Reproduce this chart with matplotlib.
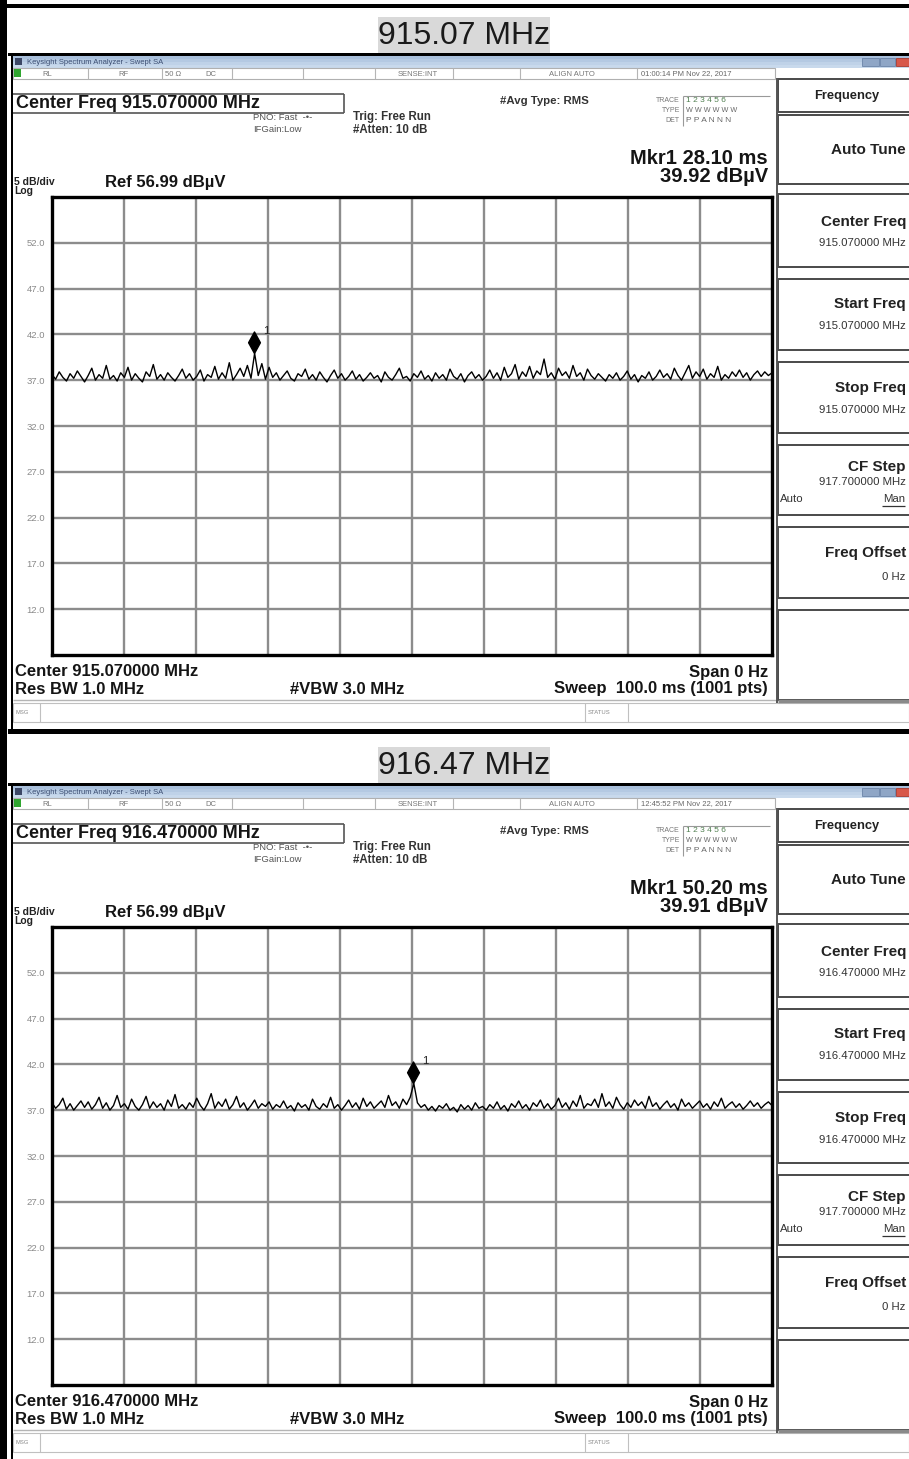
import numpy as np
import matplotlib
matplotlib.use("Agg")
import matplotlib.pyplot as plt
from matplotlib.patches import Rectangle
from matplotlib.path import Path

plt.rcParams['font.family'] = ['Liberation Sans', 'DejaVu Sans']

# ---------------- data ----------------
titles = ["915.07 MHz", "916.47 MHz"]
center_freqs = ["915.070000 MHz", "916.470000 MHz"]
timestamps = ["01:00:14 PM Nov 22, 2017", "12:45:52 PM Nov 22, 2017"]
marker_times = [28.10, 50.20]          # ms
marker_levels = [39.92, 39.91]         # dBuV
ref_level = 56.99
db_per_div = 5
sweep_ms = 100.0
y_tick_labels = ["52.0", "47.0", "42.0", "37.0", "32.0", "27.0", "22.0", "17.0", "12.0"]

trace_915 = [
    37.6, 37.1, 37.9, 37.3, 36.9, 37.7, 37.2, 38.0, 37.4, 36.8, 37.5, 38.3, 37.0, 37.6, 37.2, 38.6, 37.1, 37.5, 36.9, 37.8,
    37.3, 38.4, 37.0, 37.7, 37.2, 36.8, 37.9, 37.4, 38.7, 37.1, 37.6, 37.0, 37.8, 37.3, 36.9, 37.5, 38.2, 37.2, 37.7, 37.0,
    37.4, 38.1, 36.9, 37.6, 37.3, 38.5, 37.1, 37.8, 37.2, 38.9, 37.0, 37.6, 38.3, 37.4, 38.6, 37.2, 39.92, 37.5, 38.8, 37.1,
    38.4, 37.3, 37.8, 37.0, 37.5, 38.0, 37.2, 36.9, 37.7, 37.4, 38.2, 37.1, 37.6, 37.0, 37.9, 37.3, 36.8, 37.5, 38.1, 37.2,
    37.7, 37.0, 37.4, 38.0, 37.1, 37.6, 36.9, 37.3, 37.8, 37.2, 37.5, 36.8, 37.9, 37.3, 37.0, 37.6, 38.3, 37.2, 37.4, 36.9,
    37.7, 37.3, 38.0, 37.1, 37.5, 36.9, 37.8, 37.2, 37.6, 37.0, 38.2, 37.4, 37.1, 37.7, 36.8, 37.5, 37.9, 37.2, 37.6, 37.0,
    37.4, 38.1, 37.2, 37.8, 37.0, 38.4, 37.3, 37.7, 38.7, 37.1, 37.9, 37.4, 38.5, 37.2, 38.0, 37.6, 39.3, 37.3, 37.8, 37.1,
    38.3, 37.5, 37.9, 37.2, 38.6, 37.4, 37.8, 37.0, 38.2, 37.5, 37.1, 37.7, 37.3, 36.9, 37.6, 37.2, 37.8, 37.0, 37.4, 38.0,
    37.1, 37.6, 36.8, 37.5, 37.2, 37.9, 37.0, 37.4, 38.1, 37.3, 37.7, 37.1, 38.3, 37.5, 37.0, 37.8, 38.6, 37.2, 37.9, 37.4,
    38.2, 37.1, 37.7, 37.3, 38.5, 37.0, 37.6, 37.2, 37.9, 37.4, 38.1, 37.3, 37.8, 37.0, 37.6, 38.0, 37.4, 37.9, 37.5, 37.8,
]
trace_916 = [
    37.8, 37.2, 37.6, 38.3, 37.1, 37.7, 37.0, 37.5, 38.0, 37.3, 37.9, 37.1, 37.6, 38.4, 37.2, 37.8, 37.0, 37.5, 38.6, 37.3,
    37.7, 37.1, 38.2, 37.4, 37.0, 37.6, 38.5, 37.2, 37.9, 37.3, 37.7, 37.0, 38.1, 37.4, 38.7, 37.2, 37.6, 37.1, 37.8, 37.3,
    38.3, 37.5, 37.0, 37.7, 38.8, 37.2, 37.9, 37.4, 38.2, 37.1, 37.6, 38.5, 37.3, 37.8, 37.0, 37.5, 38.1, 37.2, 37.7, 37.4,
    37.9, 37.1, 37.6, 37.3, 38.0, 37.2, 37.5, 36.9, 37.8, 37.3, 37.6, 37.0, 38.2, 37.4, 37.1, 37.7, 37.3, 38.4, 37.2, 37.6,
    37.0, 37.5, 38.1, 37.3, 37.8, 37.1, 38.3, 37.4, 37.9, 37.2, 37.6, 38.0, 37.3, 38.6, 37.5, 37.9, 37.2, 38.2, 37.6, 38.4,
    39.91, 37.8, 37.3, 37.6, 37.0, 37.4, 36.9, 37.5, 37.2, 37.7, 37.0, 37.3, 36.8, 37.6, 37.1, 37.5, 37.0, 37.8, 37.2, 37.4,
    37.0, 37.6, 37.2, 37.9, 37.1, 37.5, 36.9, 37.7, 37.3, 38.0, 37.2, 37.6, 37.0, 37.8, 37.4, 38.1, 37.2, 37.7, 37.1, 37.5,
    38.3, 37.3, 37.8, 37.1, 38.0, 37.4, 38.6, 37.2, 37.7, 37.5, 38.2, 37.3, 38.8, 37.4, 37.9, 37.2, 38.4, 37.6, 37.1, 37.8,
    37.3, 38.1, 37.5, 37.9, 37.2, 38.5, 37.4, 37.8, 37.1, 37.6, 38.0, 37.3, 37.7, 37.0, 38.2, 37.4, 37.8, 37.2, 37.6, 38.0,
    37.3, 37.7, 37.1, 37.9, 37.4, 38.3, 37.2, 37.6, 37.9, 37.3, 37.7, 37.1, 37.5, 38.0, 37.4, 37.8, 37.2, 37.6, 37.9, 37.5,
]
traces = [trace_915, trace_916]

# ---------------- figure ----------------
W, H = 909, 1459
fig = plt.figure(figsize=(W / 100, H / 100), dpi=100)
bg = fig.add_axes([0, 0, 1, 1])
bg.set_xlim(0, W)
bg.set_ylim(H, 0)
bg.axis('off')


def T(x, y, s, size, bold=False, color='#111111', ha='left', va='center', **kw):
    return bg.text(x, y, s, fontsize=size, fontweight='bold' if bold else 'normal',
                   color=color, ha=ha, va=va, **kw)


def R(x0, y0, x1, y1, fc='none', ec='none', lw=1.0, z=1):
    bg.add_patch(Rectangle((x0, y0), x1 - x0, y1 - y0, facecolor=fc, edgecolor=ec,
                           lw=lw, zorder=z))


def L(x0, y0, x1, y1, color='#999999', lw=1.0, z=2):
    bg.plot([x0, x1], [y0, y1], color=color, lw=lw, solid_capstyle='butt', zorder=z)


# diamond marker with its lower tip at the data point
diamond = Path([(0, 0), (-0.55, 1.0), (0, 2.0), (0.55, 1.0), (0, 0)],
               [Path.MOVETO, Path.LINETO, Path.LINETO, Path.LINETO, Path.CLOSEPOLY])

# outer frame
R(0, 0, 7, H, fc='black', z=5)
R(0, 4, W, 8, fc='black', z=5)

for k in range(2):
    oy = 730 * k
    # title
    R(378, 17 + oy, 550, 53 + oy, fc='#d9d9d9')
    T(464, 36 + oy, titles[k], 23, color='#1a1a1a', ha='center')
    R(8, 53 + oy, W, 56 + oy, fc='black', z=4)
    if k == 0:
        R(8, 729, W, 734, fc='black', z=4)
    # screenshot left border
    R(11, 56 + oy, 13, min(729 + oy, H), fc='black', z=4)

    # window title bar
    for i, c in enumerate(['#a9c0dc', '#b4c9e2', '#bfd2e8', '#c8d9ec']):
        R(13, 56 + oy + i * 3, W, 59 + oy + i * 3, fc=c)
    R(15, 58 + oy, 22, 65 + oy, fc='#3c4766')
    T(27, 62 + oy, "Keysight Spectrum Analyzer - Swept SA", 5.5, color='#3d4f73')
    R(862, 58 + oy, 879, 66 + oy, fc='#8fa6c6', ec='#6b84a8', lw=0.6)
    R(880, 58 + oy, 895, 66 + oy, fc='#8fa6c6', ec='#6b84a8', lw=0.6)
    R(896, 58 + oy, W, 66 + oy, fc='#d8574a', ec='#a8392e', lw=0.6)

    # status row
    R(13, 68 + oy, 775, 79 + oy, fc='white', ec='#b0b0b0', lw=0.8)
    R(14, 69 + oy, 21, 77 + oy, fc='#2fa52f')
    for sx in [88, 162, 232, 303, 375, 453, 520, 637]:
        L(sx, 68 + oy, sx, 79 + oy, color='#b5b5b5', lw=0.8)
    T(42, 74 + oy, "RL", 5.5, color='#777777')
    T(118, 74 + oy, "RF", 5.5, color='#777777')
    T(165, 74 + oy, "50 Ω", 5.5, color='#777777')
    T(205, 74 + oy, "DC", 5.5, color='#777777')
    T(418, 74 + oy, "SENSE:INT", 5.5, color='#777777', ha='center')
    T(572, 74 + oy, "ALIGN AUTO", 5.5, color='#777777', ha='center')
    T(641, 74 + oy, timestamps[k], 5.5, color='#666666')

    # center freq box
    L(13, 94 + oy, 344, 94 + oy, color='#555555', lw=1.2)
    L(344, 94 + oy, 344, 113 + oy, color='#555555', lw=1.2)
    L(13, 113 + oy, 344, 113 + oy, color='#555555', lw=1.2)
    T(16, 104 + oy, "Center Freq " + center_freqs[k], 13, bold=True, color='#151515')

    T(253, 117 + oy, "PNO: Fast  -•-", 6.8, color='#555555')
    T(253, 129 + oy, "IFGain:Low", 6.8, color='#555555')
    T(353, 117 + oy, "Trig: Free Run", 8.3, bold=True, color='#333333')
    T(353, 130 + oy, "#Atten: 10 dB", 8.3, bold=True, color='#333333')
    T(500, 101 + oy, "#Avg Type: RMS", 8.2, bold=True, color='#333333')

    T(680, 101 + oy, "TRACE", 5, color='#777777', ha='right')
    T(680, 111 + oy, "TYPE", 5, color='#777777', ha='right')
    T(680, 121 + oy, "DET", 5, color='#777777', ha='right')
    L(683, 96 + oy, 683, 126 + oy, color='#999999', lw=0.8)
    L(683, 96 + oy, 770, 96 + oy, color='#999999', lw=0.8)
    T(686, 101 + oy, "1 2 3 4 5 6", 6, color='#4f7f4f')
    T(686, 111 + oy, "W W W W W W", 5.2, color='#666666')
    T(686, 121 + oy, "P P A N N N", 6, color='#666666')

    T(768, 158 + oy, "Mkr1 %.2f ms" % marker_times[k], 14.5, bold=True, color='#151515', ha='right')
    T(768, 177 + oy, "%.2f dBµV" % marker_levels[k], 14.5, bold=True, color='#151515', ha='right')

    T(14, 182 + oy, "5 dB/div", 7.5, bold=True, color='#222222')
    T(14, 191 + oy, "Log", 7.5, bold=True, color='#222222')
    T(105, 182 + oy, "Ref %.2f dBµV" % ref_level, 12, bold=True, color='#151515')

    # bottom info
    T(15, 672 + oy, "Center " + center_freqs[k], 12, bold=True, color='#151515')
    T(15, 689 + oy, "Res BW 1.0 MHz", 12, bold=True, color='#151515')
    T(290, 689 + oy, "#VBW 3.0 MHz", 12, bold=True, color='#151515')
    T(768, 672 + oy, "Span 0 Hz", 12, bold=True, color='#151515', ha='right')
    T(768, 689 + oy, "Sweep  100.0 ms (1001 pts)", 12, bold=True, color='#151515', ha='right')
    L(13, 700 + oy, 777, 700 + oy, color='#b5b5b5', lw=1.0)
    R(13, 703 + oy, W, 722 + oy, fc='white', ec='#c0c0c0', lw=0.8)
    for sx in [40, 585, 628]:
        L(sx, 703 + oy, sx, 722 + oy, color='#c0c0c0', lw=0.8)
    T(16, 713 + oy, "MSG", 4.2, color='#888888')
    T(588, 713 + oy, "STATUS", 4.2, color='#888888')

    # softkey panel
    L(777, 78 + oy, 777, 703 + oy, color='#555555', lw=1.4)
    boxes = [(79, 112), (115, 184), (194, 267), (279, 350), (362, 433), (445, 515), (527, 598), (610, 700)]
    for (b0, b1) in boxes:
        R(778, b0 + oy, 915, b1 + oy, fc='white', ec='#4a4a4a', lw=1.4)
    L(778, 701 + oy, W, 701 + oy, color='#8a8a8a', lw=2.5)
    T(847, 96 + oy, "Frequency", 9.3, bold=True, color='#222222', ha='center')
    T(906, 150 + oy, "Auto Tune", 11, bold=True, color='#222222', ha='right')
    T(906, 222 + oy, "Center Freq", 11, bold=True, color='#222222', ha='right')
    T(906, 243 + oy, center_freqs[k], 8.2, color='#333333', ha='right')
    T(906, 304 + oy, "Start Freq", 11, bold=True, color='#222222', ha='right')
    T(906, 326 + oy, center_freqs[k], 8.2, color='#333333', ha='right')
    T(906, 388 + oy, "Stop Freq", 11, bold=True, color='#222222', ha='right')
    T(906, 410 + oy, center_freqs[k], 8.2, color='#333333', ha='right')
    T(906, 467 + oy, "CF Step", 11, bold=True, color='#222222', ha='right')
    T(906, 482 + oy, "917.700000 MHz", 8.2, color='#333333', ha='right')
    T(780, 499 + oy, "Auto", 8.2, color='#333333')
    T(905, 499 + oy, "Man", 8.2, color='#333333', ha='right')
    L(882, 506 + oy, 905, 506 + oy, color='#333333', lw=0.9)
    T(906, 553 + oy, "Freq Offset", 11, bold=True, color='#222222', ha='right')
    T(905, 577 + oy, "0 Hz", 8.2, color='#333333', ha='right')

    # trace plot
    ax = fig.add_axes([52 / W, 1 - (655 + oy) / H, 720 / W, 458 / H])
    ax.set_zorder(6)
    ybot = ref_level - 10 * db_per_div
    ax.set_xlim(0, sweep_ms)
    ax.set_ylim(ybot, ref_level)
    ax.set_xticks(np.arange(1, 10) * sweep_ms / 10)
    ax.set_xticklabels([])
    yt = ref_level - db_per_div * np.arange(1, 10)
    ax.set_yticks(yt)
    ax.set_yticklabels(y_tick_labels, fontsize=6.8, color='#8a8a8a')
    ax.tick_params(length=0, pad=5)
    ax.grid(True, color='#8c8c8c', lw=1.7)
    ax.set_axisbelow(True)
    for sp in ax.spines.values():
        sp.set_color('black')
        sp.set_linewidth(2.4)
    tr = traces[k]
    t = np.linspace(0, sweep_ms, len(tr))
    ax.plot(t, tr, color='black', lw=1.0, zorder=3)
    ax.plot([marker_times[k]], [marker_levels[k]], marker=diamond, ms=31,
            color='black', mec='black', ls='none', zorder=4)
    ax.annotate("1", (marker_times[k], marker_levels[k]), xytext=(6, 16),
                textcoords='offset points', fontsize=8, ha='left', va='center',
                color='#222222')

fig.savefig("out.png", dpi=100)
